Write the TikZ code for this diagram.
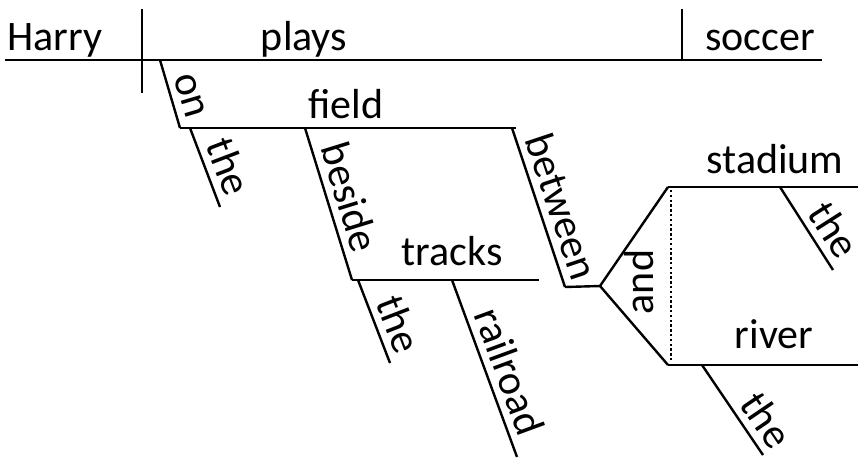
\documentclass[tikz,border=0pt]{standalone}
\usepackage{fontspec}
\setmainfont{Carlito}
\usetikzlibrary{positioning}
\tikzstyle{word} = [anchor=base, inner sep=0pt, font=\fontsize{42}{50}\selectfont]
\tikzstyle{slant} = [sloped, above, inner sep=7pt, font=\fontsize{42}{50}\selectfont]
\tikzstyle{bar} = [line width=2.4pt]
\tikzstyle{dotbar} = [line width=2.4pt, dash pattern=on 2.4pt off 2.4pt]

\begin{document}
\begin{tikzpicture}[x=1pt, y=-1pt]
\useasboundingbox (0,0) rectangle (858,459);

% main line
\coordinate (base0) at (5,60);
\coordinate (base1) at (822,60);
\coordinate (subtop) at (142,9);
\coordinate (subbot) at (142,93);
\coordinate (objtop) at (682,9);
\coordinate (objbot) at (682,60);
% on the field
\coordinate (on0) at (160,60);
\coordinate (field0) at (180,128);
\coordinate (field1) at (516,128);
\coordinate (the1a) at (190,128);
\coordinate (the1b) at (220,207);
% beside the railroad tracks
\coordinate (beside0) at (305,128);
\coordinate (tracks0) at (352,280);
\coordinate (tracks1) at (539,280);
\coordinate (the2a) at (358,280);
\coordinate (the2b) at (390,363);
\coordinate (rail0) at (452,280);
\coordinate (rail1) at (517,457);
% between the stadium and the river
\coordinate (between0) at (512,128);
\coordinate (between1) at (565,287);
\coordinate (fork) at (600,286);
\coordinate (stadium0) at (668,187);
\coordinate (stadium1) at (858,187);
\coordinate (river0) at (668,365);
\coordinate (river1) at (858,365);
\coordinate (dot0) at (671,190);
\coordinate (dot1) at (671,362);
\coordinate (the3a) at (780,187);
\coordinate (the3b) at (833,270);
\coordinate (the4a) at (702,365);
\coordinate (the4b) at (763,455);

\node (harry) [word] at (55,50) {Harry};
\node (plays) [word] at (304,50) {plays};
\node (soccer) [word] at (760,50) {soccer};
\node (field) [word] at (346,118) {field};
\node (tracks) [word] at (452,265) {tracks};
\node (stadium) [word] at (775,173) {stadium};
\node (river) [word] at (774,348) {river};
\node (and) [word, anchor=center, rotate=90] at (639,282) {and};

\draw [bar] (base0) -- (base1);
\draw [bar] (subtop) -- (subbot);
\draw [bar] (objtop) -- (objbot);
\draw [bar] (on0) -- node [slant, pos=0.6] (on) {on} (field0);
\draw [bar] (field0) -- (field1);
\draw [bar] (the1a) -- node [slant, pos=0.59] (the1) {the} (the1b);
\draw [bar] (beside0) -- node [slant, pos=0.5] (beside) {beside} (tracks0);
\draw [bar] (tracks0) -- (tracks1);
\draw [bar] (the2a) -- node [slant, pos=0.63] (the2) {the} (the2b);
\draw [bar] (rail0) -- node [slant, pos=0.56] (railroad) {railroad} (rail1);
\draw [bar] (between0) -- node [slant, pos=0.54] (between) {between} (between1);
\draw [bar] (between1) -- (fork);
\draw [bar] (fork) -- (stadium0);
\draw [bar] (fork) -- (river0);
\draw [dotbar] (dot0) -- (dot1);
\draw [bar] (stadium0) -- (stadium1);
\draw [bar] (river0) -- (river1);
\draw [bar] (the3a) -- node [slant, pos=0.66] (the3) {the} (the3b);
\draw [bar] (the4a) -- node [slant, pos=0.75] (the4) {the} (the4b);

\end{tikzpicture}
\end{document}
